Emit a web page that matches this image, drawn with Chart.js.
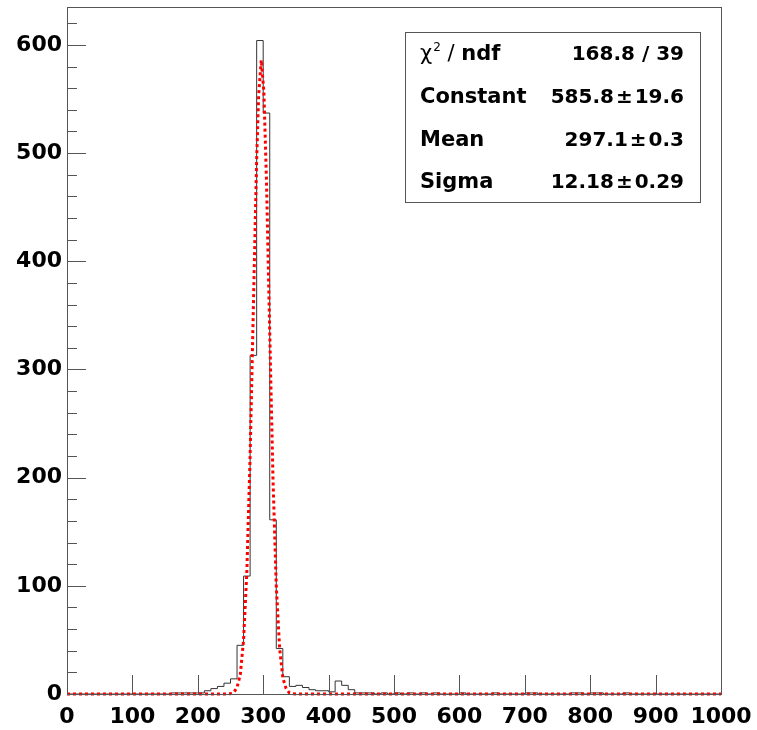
<!DOCTYPE html>
<html>
<head>
<meta charset="utf-8">
<script src="https://cdn.jsdelivr.net/npm/chart.js@4/dist/chart.umd.min.js"></script>
<style>
  html, body { margin: 0; padding: 0; background: #fff; }
  #wrap { width: 757px; height: 730px; }
</style>
</head>
<body>
<div id="wrap"><canvas id="histChart" width="757" height="730"></canvas></div>
<script>
// histogram: 100 bins of width 10 from 0 to 1000
const binWidth = 10;
const counts = [
    0, 0, 0, 0, 0, 0, 0, 0, 0, 0,          // 0-100
    0, 0, 0, 0, 0, 0, 1, 1, 1, 1,          // 100-200
    1, 3, 5, 7, 10, 14, 45, 109, 313, 604, // 200-300
    537, 161, 42, 16, 7, 8, 6, 4, 3, 3,    // 300-400
    2, 12, 8, 4, 1, 1, 1, 0, 1, 0,         // 400-500
    1, 0, 1, 0, 1, 0, 1, 0, 0, 0,          // 500-600
    1, 0, 0, 0, 0, 1, 0, 0, 0, 0,          // 600-700
    1, 1, 0, 0, 0, 0, 0, 1, 1, 0,          // 700-800
    1, 1, 0, 0, 0, 1, 0, 0, 0, 0,          // 800-900
    0, 0, 0, 0, 0, 0, 0, 0, 0, 0           // 900-1000
];

// gaussian fit curve
const fitX = [0, 200, 240, 250, 255, 260, 265, 270, 275, 280, 285, 290, 293, 297, 301, 305, 310, 315, 320, 325, 330, 335, 340, 345, 350, 400, 1000];
const fitY = [0, 0, 0, 0.3, 1.5, 6, 18, 50, 113, 220, 358, 494, 553, 586, 557, 475, 334, 198, 100, 43, 15, 5, 1, 0.3, 0, 0, 0];

const xTicks = [0, 100, 200, 300, 400, 500, 600, 700, 800, 900, 1000];
const yTicks = [0, 100, 200, 300, 400, 500, 600];
const yMinor = [20, 40, 60, 80, 120, 140, 160, 180, 220, 240, 260, 280, 320, 340, 360, 380, 420, 440, 460, 480, 520, 540, 560, 580, 620];

const statLabels = ['chi', 'Constant', 'Mean', 'Sigma'];
const statValues = ['168.8 / 39', '585.8\u200a\u00b1\u200a19.6', '297.1\u200a\u00b1\u200a0.3', '12.18\u200a\u00b1\u200a0.29'];

const histPoints = counts.map((c, i) => ({ x: i * binWidth, y: c }));
histPoints.push({ x: counts.length * binWidth, y: counts[counts.length - 1] });
const fitPoints = fitX.map((x, i) => ({ x: x, y: fitY[i] }));

// ROOT style frame, inner ticks and stats box
const rootFrame = {
    id: 'rootFrame',
    afterDraw(chart) {
        const ctx = chart.ctx;
        const a = chart.chartArea;
        const xs = chart.scales.x;
        const ys = chart.scales.y;
        ctx.save();
        ctx.strokeStyle = '#555';
        ctx.lineWidth = 1;
        ctx.strokeRect(a.left + 0.5, a.top + 0.5, a.right - a.left, a.bottom - a.top);

        ctx.strokeStyle = '#555';
        ctx.beginPath();
        xTicks.forEach(v => {
            const px = Math.round(xs.getPixelForValue(v)) + 0.5;
            ctx.moveTo(px, a.bottom);
            ctx.lineTo(px, a.bottom - 19);
        });
        yTicks.forEach(v => {
            const py = Math.round(ys.getPixelForValue(v)) + 0.5;
            ctx.moveTo(a.left, py);
            ctx.lineTo(a.left + 19, py);
        });
        yMinor.forEach(v => {
            const py = Math.round(ys.getPixelForValue(v)) + 0.5;
            ctx.moveTo(a.left, py);
            ctx.lineTo(a.left + 10, py);
        });
        ctx.stroke();

        // stats box
        const bx = 405, by = 32, bw = 295, bh = 170;
        ctx.fillStyle = '#fff';
        ctx.fillRect(bx, by, bw, bh);
        ctx.strokeStyle = '#555';
        ctx.strokeRect(bx + 0.5, by + 0.5, bw, bh);

        const rowY = [55, 98, 141, 183];
        ctx.fillStyle = '#000';
        ctx.textBaseline = 'middle';
        statLabels.forEach((lab, i) => {
            const y = rowY[i];
            ctx.textAlign = 'left';
            if (lab === 'chi') {
                ctx.font = '21px "DejaVu Sans"';
                ctx.fillText('\u03c7', 420, y);
                let w = ctx.measureText('\u03c7').width;
                ctx.font = '12px "DejaVu Sans"';
                ctx.fillText('2', 420 + w + 1, y - 7);
                w += ctx.measureText('2').width + 1;
                ctx.font = '21px "DejaVu Sans"';
                ctx.fillText(' / ', 420 + w, y);
                w += ctx.measureText(' / ').width;
                ctx.font = 'bold 21px "DejaVu Sans"';
                ctx.fillText('ndf', 420 + w, y);
            } else {
                ctx.font = 'bold 21px "DejaVu Sans"';
                ctx.fillText(lab, 420, y);
            }
            ctx.textAlign = 'right';
            ctx.font = 'bold 20px "DejaVu Sans"';
            ctx.fillText(statValues[i], 684, y);
        });
        ctx.restore();
    }
};

const ctx = document.getElementById('histChart').getContext('2d');
const histChart = new Chart(ctx, {
    type: 'line',
    data: {
        datasets: [
            {
                label: 'fit',
                data: fitPoints,
                borderColor: 'rgb(255, 0, 0)',
                borderWidth: 3,
                borderDash: [3, 3],
                pointRadius: 0,
                tension: 0,
                clip: 4
            },
            {
                label: 'hist',
                data: histPoints,
                stepped: true,
                borderColor: '#333',
                borderWidth: 1,
                pointRadius: 0,
                fill: false
            }
        ]
    },
    options: {
        responsive: false,
        animation: false,
        events: [],
        layout: {
            padding: { left: 0, top: 7, right: 36, bottom: 0 }
        },
        plugins: {
            legend: { display: false },
            tooltip: { enabled: false }
        },
        scales: {
            x: {
                type: 'linear',
                min: 0,
                max: 1000,
                afterBuildTicks: s => { s.ticks = xTicks.map(v => ({ value: v })); },
                afterFit: s => { s.height = 36; s.paddingLeft = 0; s.paddingRight = 0; },
                grid: { display: false, drawTicks: false },
                border: { display: false },
                ticks: {
                    autoSkip: false,
                    maxRotation: 0,
                    padding: 10,
                    color: '#000',
                    callback: v => String(v),
                    font: { family: 'DejaVu Sans', size: 22, weight: 'bold' }
                }
            },
            y: {
                type: 'linear',
                min: 0,
                max: 635,
                afterBuildTicks: s => { s.ticks = yTicks.map(v => ({ value: v })); },
                afterFit: s => { s.width = 67; s.paddingTop = 0; s.paddingBottom = 0; },
                grid: { display: false, drawTicks: false },
                border: { display: false },
                ticks: {
                    padding: 5,
                    color: '#000',
                    font: { family: 'DejaVu Sans', size: 22, weight: 'bold' }
                }
            }
        }
    },
    plugins: [rootFrame]
});
</script>
</body>
</html>
